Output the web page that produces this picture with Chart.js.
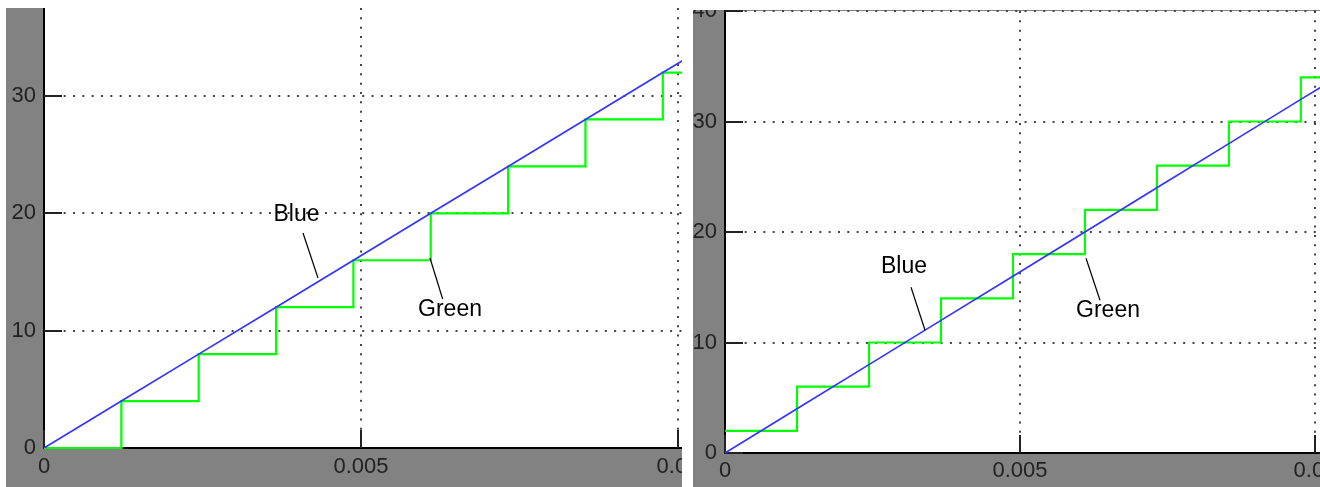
<!DOCTYPE html>
<html>
<head>
<meta charset="utf-8" />
<title>Quantizer steps</title>
<script src="https://cdn.jsdelivr.net/npm/chart.js@4.4.1/dist/chart.umd.min.js"></script>
<style>
  body { margin: 0; background: #fff; width: 1320px; height: 487px; overflow: hidden; position: relative; }
  .panel { position: absolute; background: #828282; }
  #leftPanel { left: 6px; top: 8px; width: 676px; height: 479px; }
  #rightPanel { left: 693px; top: 10px; width: 627px; height: 477px; }
  canvas { display: block; }
</style>
</head>
<body>
<div class="panel" id="leftPanel"><canvas id="leftChart" width="676" height="479"></canvas></div>
<div class="panel" id="rightPanel"><canvas id="rightChart" width="627" height="477"></canvas></div>
<script>
// times where the green signal steps (s)
const stepTimes = [0, 0.00122, 0.00244, 0.00366, 0.00488, 0.0061, 0.00732, 0.00854, 0.00976, 0.0101];
// blue ramp read at the same times
const blueValues = [0, 4, 8, 12, 16, 20, 24, 28, 32, 33.1];
// green staircase, left plot (truncating) and right plot (offset by half a step)
const greenLeftValues = [0, 4, 8, 12, 16, 20, 24, 28, 32, 32];
const greenRightValues = [2, 6, 10, 14, 18, 22, 26, 30, 34, 34];

const xTicks = [0, 0.005, 0.01];
const xTickLabels = ['0', '0.005', '0.01'];
const yTicksLeft = [0, 10, 20, 30];
const yTicksRight = [0, 10, 20, 30, 40];

// text labels with leader lines, in data units
const leftNotes = [
  { text: 'Blue', at: [0.003983, 19.86], from: [0.004085, 18.32], to: [0.004322, 14.49] },
  { text: 'Green', at: [0.006404, 11.76], from: [0.006288, 12.70], to: [0.006088, 16.19] }
];
const rightNotes = [
  { text: 'Blue', at: [0.003034, 16.85], from: [0.003153, 15.0], to: [0.00339, 11.11] },
  { text: 'Green', at: [0.006492, 12.92], from: [0.006356, 13.82], to: [0.006119, 17.62] }
];

const toPoints = (xs, ys) => xs.map((x, i) => ({ x: x, y: ys[i] }));

const panelPlugin = {
  id: 'panel',
  beforeDraw(chart) {
    const a = chart.chartArea;
    const ctx = chart.ctx;
    ctx.save();
    ctx.fillStyle = '#fff';
    ctx.fillRect(a.left, a.top, a.right - a.left, a.bottom - a.top);
    ctx.restore();
  },
  beforeDatasetsDraw(chart) {
    // short solid tick marks pointing into the plot
    const ctx = chart.ctx;
    const a = chart.chartArea;
    const len = 18;
    ctx.save();
    ctx.strokeStyle = '#222';
    ctx.lineWidth = 2;
    ctx.beginPath();
    chart.scales.x.ticks.forEach(t => {
      const px = Math.round(chart.scales.x.getPixelForValue(t.value));
      ctx.moveTo(px, a.bottom);
      ctx.lineTo(px, a.bottom - len);
    });
    chart.scales.y.ticks.forEach(t => {
      const py = Math.round(chart.scales.y.getPixelForValue(t.value));
      ctx.moveTo(a.left, py);
      ctx.lineTo(a.left + len, py);
    });
    ctx.stroke();
    ctx.restore();
  },
  afterDatasetsDraw(chart) {
    const notes = chart.options.plugins.panel.notes;
    const xs = chart.scales.x, ys = chart.scales.y;
    const ctx = chart.ctx;
    ctx.save();
    ctx.strokeStyle = '#000';
    ctx.lineWidth = 1.2;
    ctx.fillStyle = '#000';
    ctx.font = '23px "Liberation Sans", Arial, sans-serif';
    ctx.textAlign = 'center';
    ctx.textBaseline = 'middle';
    notes.forEach(n => {
      ctx.beginPath();
      ctx.moveTo(xs.getPixelForValue(n.from[0]), ys.getPixelForValue(n.from[1]));
      ctx.lineTo(xs.getPixelForValue(n.to[0]), ys.getPixelForValue(n.to[1]));
      ctx.stroke();
      ctx.fillText(n.text, xs.getPixelForValue(n.at[0]), ys.getPixelForValue(n.at[1]));
    });
    ctx.restore();
  }
};

function makePanel(id, greenValues, yTicks, cfg) {
  const tickFont = { family: 'Liberation Sans', size: 22 };
  return new Chart(document.getElementById(id), {
    type: 'line',
    data: {
      datasets: [
        {
          label: 'Green',
          data: toPoints(stepTimes, greenValues),
          borderColor: '#00ff00',
          borderWidth: 2.2,
          stepped: true,
          pointRadius: 0,
          clip: 3,
          order: 2
        },
        {
          label: 'Blue',
          data: toPoints(stepTimes, blueValues),
          borderColor: 'rgb(52,52,255)',
          borderWidth: 1.7,
          pointRadius: 0,
          order: 1
        }
      ]
    },
    options: {
      responsive: false,
      animation: false,
      events: [],
      layout: { autoPadding: false, padding: { top: cfg.padTop, left: 0, right: 0, bottom: 0 } },
      plugins: {
        legend: { display: false },
        tooltip: { enabled: false },
        panel: { notes: cfg.notes }
      },
      scales: {
        x: {
          type: 'linear',
          min: 0,
          max: cfg.xMax,
          afterBuildTicks: s => { s.ticks = xTicks.map(v => ({ value: v })); },
          afterFit: s => {
            s.height = cfg.xHeight;
            s.paddingLeft = s.paddingRight = 0;
          },
          ticks: {
            font: tickFont,
            color: '#222',
            padding: cfg.xPad,
            maxRotation: 0,
            autoSkip: false,
            callback: (v, i) => xTickLabels[i]
          },
          grid: { color: '#444', lineWidth: 2, drawTicks: false },
          border: { color: '#000', width: 2, dash: [2, 7.33] }
        },
        y: {
          type: 'linear',
          min: 0,
          max: cfg.yMax,
          afterBuildTicks: s => { s.ticks = yTicks.map(v => ({ value: v })); },
          afterFit: s => {
            s.width = cfg.yWidth;
            s.paddingTop = s.paddingBottom = 0;
          },
          ticks: {
            font: tickFont,
            color: '#222',
            padding: 8,
            autoSkip: false,
            callback: v => String(v)
          },
          grid: { color: '#444', lineWidth: 2, drawTicks: false },
          border: { color: '#000', width: 2, dash: [2, 7.33] }
        }
      }
    },
    plugins: [panelPlugin]
  });
}

makePanel('leftChart', greenLeftValues, yTicksLeft, {
  xMax: 0.010063, yMax: 37.5, xHeight: 39, yWidth: 38, padTop: 0, xPad: 6, notes: leftNotes
});
makePanel('rightChart', greenRightValues, yTicksRight, {
  xMax: 0.010085, yMax: 40, xHeight: 34, yWidth: 32, padTop: 1, xPad: 5, notes: rightNotes
});
</script>
</body>
</html>
